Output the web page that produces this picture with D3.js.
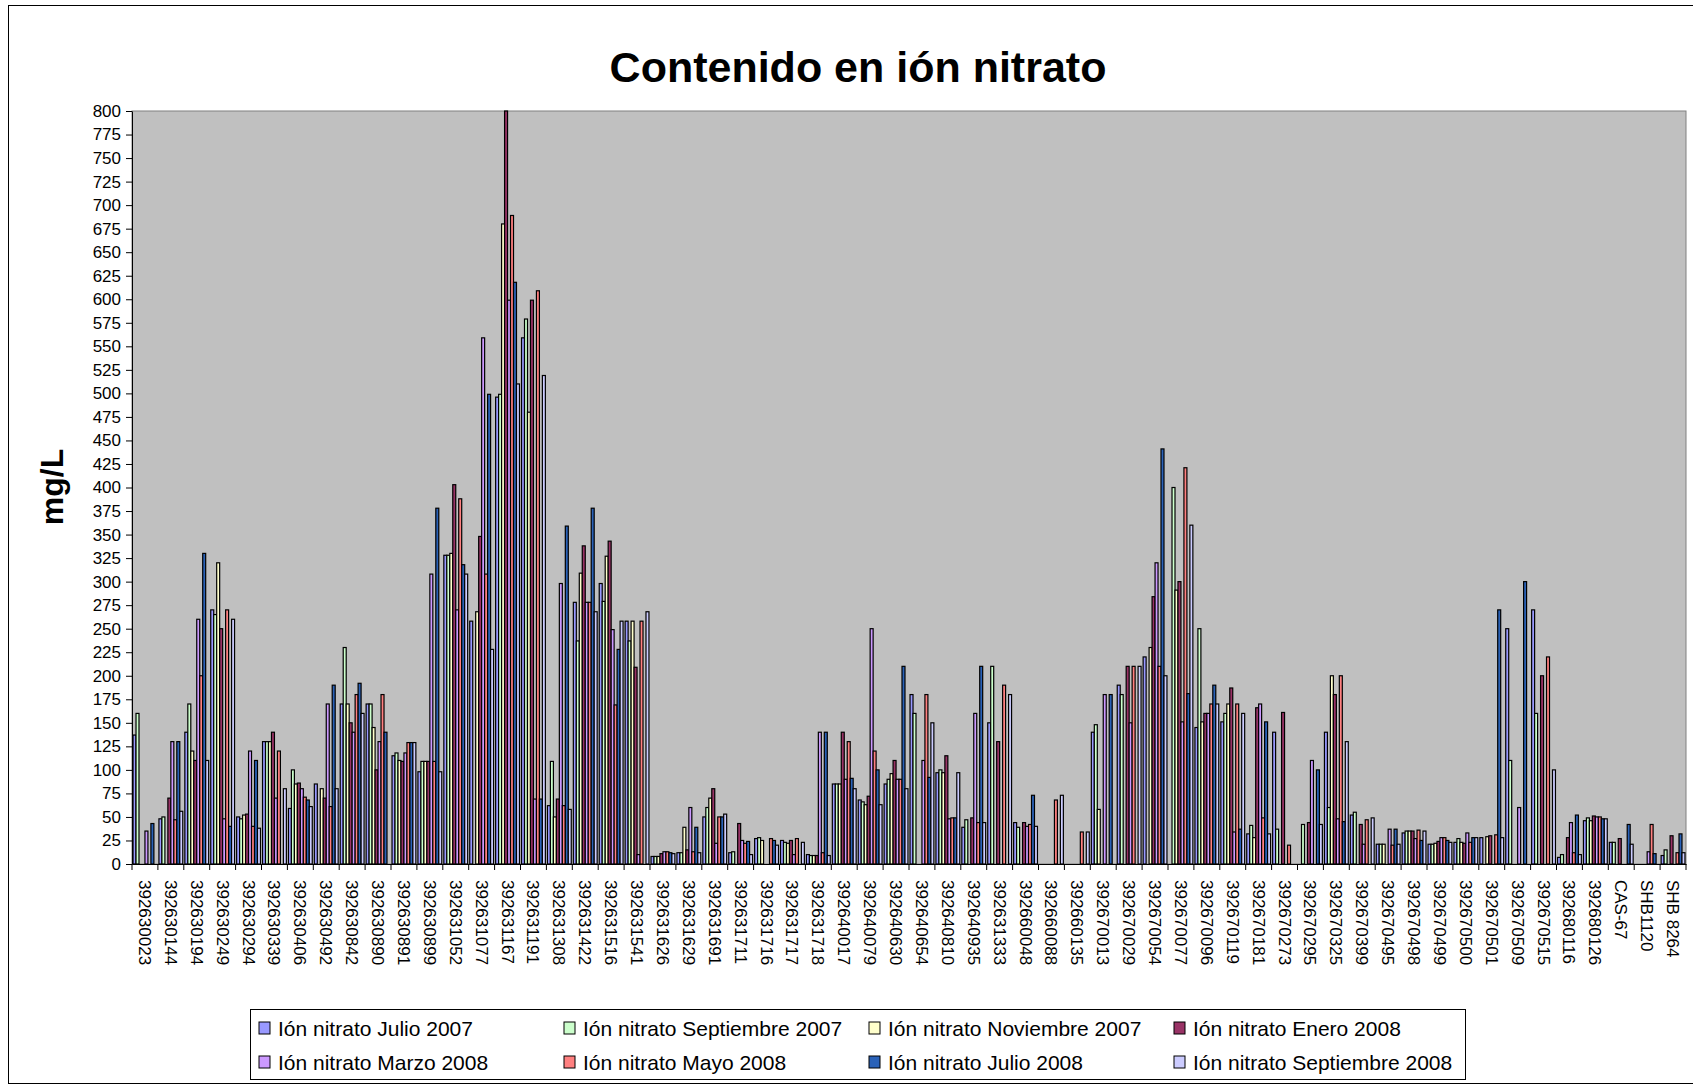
<!DOCTYPE html>
<html><head><meta charset="utf-8">
<script src="https://cdn.jsdelivr.net/npm/d3@7"></script>
<style>body{margin:0;background:#fff;} svg{display:block;font-family:"Liberation Sans",Arial,sans-serif;}</style>
</head><body>
<svg id="chart" width="1693" height="1085"></svg>
<script>
const categories = ["392630023","392630144","392630194","392630249","392630294","392630339","392630406","392630492","392630842","392630890",
"392630891","392630899","392631052","392631077","392631167","392631191","392631308","392631422","392631516","392631541",
"392631626","392631629","392631691","392631711","392631716","392631717","392631718","392640017","392640079","392640630",
"392640654","392640810","392640935","392631333","392660048","392660088","392660135","392670013","392670029","392670054",
"392670077","392670096","392670119","392670181","392670273","392670295","392670325","392670399","392670495","392670498",
"392670499","392670500","392670501","392670509","392670515","392680116","392680126","CAS-67","SHB1120","SHB 8264"];

const seriesNames = ["Ión nitrato Julio 2007","Ión nitrato Septiembre 2007","Ión nitrato Noviembre 2007","Ión nitrato Enero 2008",
"Ión nitrato Marzo 2008","Ión nitrato Mayo 2008","Ión nitrato Julio 2008","Ión nitrato Septiembre 2008"];
const seriesColors = ["#9999ff","#ccffcc","#ffffcc","#993366","#cc99ff","#ff8080","#2a62b8","#ccccff"];

const julio2007 = [137,48,140,270,50,130,59,85,170,170, 115,98,328,258,496,559,62,278,298,258, 8,12,50,12,27,25,10,85,68,85,
180,97,39,150,44,0,0,140,190,220, 0,145,151,32,140,0,140,52,21,33, 21,23,28,250,270,7,46,23,0,9];
const septiembre2007 = [160,50,170,265,48,130,100,0,230,170, 118,109,328,0,499,579,109,237,279,237, 8,12,60,13,28,23,9,85,66,90,
160,100,47,210,39,0,0,148,180,0, 400,250,160,41,37,42,60,55,21,35, 21,27,0,110,160,10,49,23,0,15];
const noviembre2007 = [0,0,120,320,52,130,85,80,170,145, 110,109,330,268,680,480,50,309,327,258, 8,39,70,0,25,22,9,85,63,96,
0,97,0,0,0,0,0,58,0,230, 291,151,170,28,0,0,200,0,21,35, 22,23,29,0,0,0,46,0,0,0];
const enero2008 = [0,70,110,250,53,140,86,70,150,100, 109,109,403,348,800,599,69,338,343,209, 11,15,80,43,0,25,9,140,72,110,
0,115,49,130,44,0,0,0,210,284, 300,160,187,166,161,44,180,42,0,35, 24,22,30,0,200,28,51,27,0,30];
const marzo2008 = [35,130,260,48,120,70,80,170,140,130, 118,308,270,559,599,69,298,278,249,10, 13,60,22,25,0,10,140,90,250,90,
110,48,160,0,40,0,0,180,150,320, 151,160,34,170,0,110,48,21,37,27, 28,33,0,60,0,44,50,0,13,0];
const mayo2008 = [0,47,200,270,40,120,71,61,180,180, 129,109,388,308,689,609,62,278,169,258, 13,13,50,22,27,27,12,130,120,90,
180,49,44,190,42,68,34,0,210,210, 421,170,170,49,20,0,200,47,20,36, 28,23,31,0,220,12,50,0,42,12];
const julio2008 = [43,130,330,40,110,0,68,190,192,140, 129,378,318,499,618,69,359,378,228,0, 12,39,50,24,25,0,140,91,100,210,
92,49,210,0,73,0,0,180,0,441, 181,190,37,151,0,100,45,0,37,25, 25,28,270,300,0,52,48,42,11,32];
const septiembre2008 = [0,56,110,260,38,80,61,80,160,0, 129,98,308,228,510,519,58,268,258,268, 11,12,53,10,20,23,9,80,63,80,
150,97,44,180,40,73,34,0,210,200, 360,170,160,32,0,42,130,49,21,35, 23,28,28,0,100,10,48,21,0,12];

const seriesValues = [julio2007,septiembre2007,noviembre2007,enero2008,marzo2008,mayo2008,julio2008,septiembre2008];
const yTicks = d3.range(0, 801, 25);

const svg = d3.select("#chart");
const L = 132, R = 1686, T = 111, B = 864;

svg.append("rect").attr("x",0).attr("y",0).attr("width",1693).attr("height",1085).attr("fill","#fff");
svg.append("rect").attr("x",8.5).attr("y",5.5).attr("width",1700).attr("height",1078)
  .attr("fill","none").attr("stroke","#000").attr("stroke-width",1);

const x0 = d3.scaleBand().domain(categories).range([L, R]).paddingInner(0.08).paddingOuter(0.04);
const x1 = d3.scaleBand().domain(d3.range(seriesNames.length)).range([0, x0.bandwidth()]).padding(0);
const y = d3.scaleLinear().domain([0, 800]).range([B, T]);

svg.append("rect").attr("x",L).attr("y",T).attr("width",R-L).attr("height",B-T)
  .attr("fill","#c0c0c0").attr("stroke","#808080").attr("stroke-width",1);

// bars
const g = svg.append("g");
categories.forEach((c, ci) => {
  seriesValues.forEach((arr, si) => {
    const v = arr[ci];
    if (!v) return;
    g.append("rect")
      .attr("x", x0(c) + x1(si))
      .attr("y", y(v))
      .attr("width", x1.bandwidth())
      .attr("height", y(0) - y(v))
      .attr("fill", seriesColors[si])
      .attr("stroke", "#000")
      .attr("stroke-width", 1.2);
  });
});

// y axis
const ya = svg.append("g").attr("transform", `translate(${L},0)`)
  .call(d3.axisLeft(y).tickValues(yTicks).tickSize(6).tickPadding(5).tickSizeOuter(0));
ya.select(".domain").attr("stroke","#000");
ya.selectAll("text").attr("font-size","17px").attr("fill","#000").attr("font-family","Liberation Sans, Arial, sans-serif");

// x axis
const xa = svg.append("g").attr("transform", `translate(0,${B})`)
  .call(d3.axisBottom(x0).tickSize(0).tickSizeOuter(0));
xa.select(".domain").attr("stroke","#000");
xa.selectAll("text")
  .attr("transform","rotate(90)")
  .attr("x", 16).attr("y", 0).attr("dy","0.35em")
  .attr("text-anchor","start")
  .attr("font-size","17px").attr("fill","#000").attr("font-family","Liberation Sans, Arial, sans-serif");
// category boundary ticks
const step = x0.step();
d3.range(categories.length + 1).forEach(i => {
  const xx = L + i * step;
  svg.append("line").attr("x1", xx).attr("x2", xx).attr("y1", B).attr("y2", B + 6)
    .attr("stroke", "#000").attr("stroke-width", 1);
});

// title
svg.append("text").attr("x", 858).attr("y", 82).attr("text-anchor","middle")
  .attr("font-size","43px").attr("font-weight","bold").text("Contenido en ión nitrato");

// y title
svg.append("text").attr("transform","translate(63,487) rotate(-90)").attr("text-anchor","middle")
  .attr("font-size","32px").attr("font-weight","bold").text("mg/L");

// legend
const lg = svg.append("g");
lg.append("rect").attr("x",250.5).attr("y",1009.5).attr("width",1215).attr("height",70)
  .attr("fill","#fff").attr("stroke","#000").attr("stroke-width",1);
const colX = [259, 564, 869, 1174];
const rowY = [1028, 1062];
seriesNames.forEach((name, i) => {
  const cx = colX[i % 4], cy = rowY[Math.floor(i / 4)];
  lg.append("rect").attr("x", cx).attr("y", cy - 6).attr("width", 11).attr("height", 12)
    .attr("fill", seriesColors[i]).attr("stroke","#000").attr("stroke-width",1);
  lg.append("text").attr("x", cx + 19).attr("y", cy).attr("dy","0.36em")
    .attr("font-size","21px").text(name);
});
</script>
</body></html>
